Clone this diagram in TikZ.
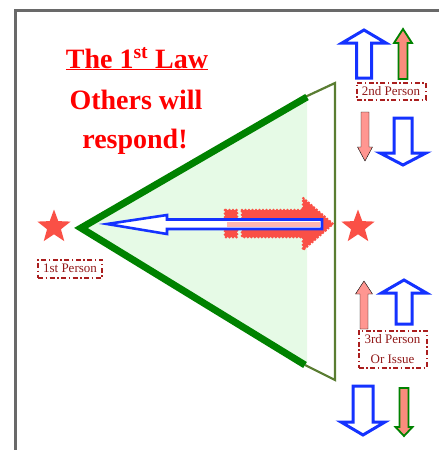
\documentclass[tikz,border=0pt]{standalone}
\usepackage{fontspec}
\setmainfont{Liberation Serif}
\usetikzlibrary{shapes.geometric}

\definecolor{lawred}{RGB}{255,0,0}
\definecolor{starred}{RGB}{250,80,70}
\definecolor{boxred}{RGB}{170,30,30}
\definecolor{coneline}{RGB}{0,130,0}
\definecolor{coneedge}{RGB}{90,125,50}
\definecolor{conefill}{RGB}{230,250,230}
\definecolor{arrowblue}{RGB}{20,50,255}
\definecolor{salmon}{RGB}{250,140,125}
\definecolor{pinkish}{RGB}{255,150,145}
\definecolor{framegray}{RGB}{105,105,105}

\tikzset{
  person/.style={star, star points=5, star point ratio=2.4, fill=starred, minimum size=35pt, inner sep=0pt},
  tag/.style={draw=boxred, text=boxred!85!black, line width=2pt, dash pattern=on 5pt off 2.5pt on 1.5pt off 2.5pt, font=\fontsize{13}{20}\selectfont, inner sep=1pt, align=center},
  hollow/.style={draw=arrowblue, fill=white, line width=3pt},
  small/.style={draw=coneline, fill=salmon, line width=1.8pt},
  faint/.style={fill=pinkish},
  lawtext/.style={text=lawred, font=\fontsize{28}{40}\selectfont\bfseries, anchor=base}
}

% block arrow: style, x, tip y, tail y, head half, shaft half, head base y
\newcommand{\varrow}[7]{%
  \draw[#1] (#2,#3) -- (#2+#5,#7) -- (#2+#6,#7) -- (#2+#6,#4) -- (#2-#6,#4) -- (#2-#6,#7) -- (#2-#5,#7) -- cycle;}

\begin{document}
\begin{tikzpicture}[x=1pt, y=-1pt]
  \useasboundingbox (0,0) rectangle (439,450);

  % frame
  \draw[framegray, line width=3pt] (15,452) -- (15,10) -- (441,10);

  % the cone
  \fill[conefill] (81,228) -- (307,97) -- (307,365) -- cycle;
  \draw[coneedge, line width=2.2pt] (305,97) -- (335,83) -- (335,380) -- (305,365);
  \draw[coneline, line width=7pt] (307,97) -- (81,228) -- (305,365);

  % fuzzy red arrow
  \fill[starred] (225,210) rectangle (237,237);
  \fill[starred] (242,210) -- (303,210) -- (303,198) -- (333,224) -- (303,250) -- (303,237) -- (242,237) -- cycle;
  \draw[starred, line width=3pt, line cap=round, dash pattern=on 0pt off 3.5pt]
    (242,210) -- (303,210) -- (303,198) -- (333,224) -- (303,250) -- (303,237) -- (242,237) -- cycle;
  \draw[starred, line width=3pt, line cap=round, dash pattern=on 0pt off 3.5pt] (225,210) rectangle (237,237);

  % blue arrow back to the apex
  \draw[hollow, line width=2.6pt] (107,224) -- (167,215) -- (167,219.5) -- (322,219.5) -- (322,229) -- (167,229) -- (167,234) -- cycle;
  \fill[pinkish!70!white] (227,221.8) rectangle (320,226.7);

  % persons
  \node[person] (p1) at (54,227) {};
  \node[person] (p2) at (358,227) {};
  \node[tag, minimum width=64pt, minimum height=18pt] (t1) at (70,268.5) {1st Person};
  \node[tag, minimum width=69pt, minimum height=17pt] (t2) at (391,91) {2nd Person};
  \node[tag, minimum width=68pt, minimum height=37pt] (t3) at (392.5,349) {3rd Person\\Or Issue};

  % title
  \node[lawtext] (law) at (137,68) {\underline{The 1\textsuperscript{st} Law}};
  \node[lawtext] (others) at (136,109) {Others will};
  \node[lawtext] (respond) at (135,148) {respond!};

  % arrows round the 2nd person
  \varrow{hollow}{364}{30}{78}{22}{7.5}{43}
  \varrow{small}{403}{29}{79}{9}{4.5}{43}
  \varrow{faint}{365}{161}{112}{7.5}{4}{147}
  \varrow{hollow}{403}{165}{118}{23}{9}{153}

  % arrows round the 3rd person
  \varrow{faint}{364}{281}{329}{8.5}{4}{294}
  \varrow{hollow}{404}{280}{324}{22.5}{8}{293}
  \varrow{hollow}{363}{435}{386}{22}{10}{422}
  \varrow{small}{404}{436}{388}{8.5}{4.5}{427}
\end{tikzpicture}
\end{document}
